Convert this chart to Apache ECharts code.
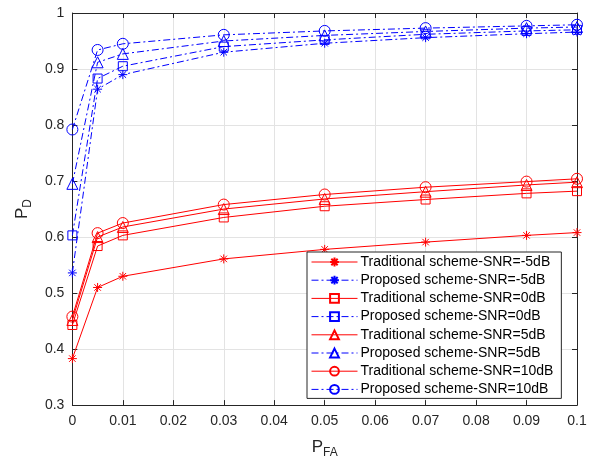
<!DOCTYPE html>
<html>
<head>
<meta charset="utf-8">
<script src="https://cdn.jsdelivr.net/npm/echarts@6/dist/echarts.min.js"></script>
<style>
  html, body { margin: 0; padding: 0; background: #fff; }
  #chart { width: 599px; height: 464px; }
</style>
</head>
<body>
<div id="chart"></div>
<script>
// False-alarm probabilities (x) and detection probabilities (y)
const pfa = [0, 0.005, 0.01, 0.03, 0.05, 0.07, 0.09, 0.1];

const tradM5  = [0.383, 0.510, 0.530, 0.561, 0.578, 0.591, 0.603, 0.608];
const propM5  = [0.536, 0.864, 0.890, 0.930, 0.946, 0.956, 0.963, 0.966];
const trad0   = [0.443, 0.584, 0.603, 0.635, 0.655, 0.667, 0.678, 0.682];
const prop0   = [0.603, 0.883, 0.905, 0.940, 0.952, 0.962, 0.968, 0.970];
const trad5   = [0.452, 0.600, 0.618, 0.650, 0.668, 0.681, 0.693, 0.698];
const prop5   = [0.695, 0.912, 0.927, 0.950, 0.960, 0.967, 0.973, 0.975];
const trad10  = [0.458, 0.607, 0.625, 0.658, 0.676, 0.689, 0.699, 0.704];
const prop10  = [0.792, 0.934, 0.945, 0.961, 0.968, 0.973, 0.977, 0.979];

const names = [
  'Traditional scheme-SNR=-5dB', 'Proposed scheme-SNR=-5dB',
  'Traditional scheme-SNR=0dB',  'Proposed scheme-SNR=0dB',
  'Traditional scheme-SNR=5dB',  'Proposed scheme-SNR=5dB',
  'Traditional scheme-SNR=10dB', 'Proposed scheme-SNR=10dB'
];
const values = [tradM5, propM5, trad0, prop0, trad5, prop5, trad10, prop10];

const ASTERISK = 'path://M0,-5L0,5M-5,0L5,0M-3.6,-3.6L3.6,3.6M-3.6,3.6L3.6,-3.6';
const markers = [ASTERISK, ASTERISK, 'rect', 'rect', 'triangle', 'triangle', 'circle', 'circle'];
const markerSize = [9, 9, 9, 9, 11, 11, 11, 11];

const RED = '#ff0000';
const BLUE = '#0000ff';
const FONT = 'Liberation Sans';

const series = names.map((name, i) => {
  const proposed = i % 2 === 1;
  const color = proposed ? BLUE : RED;
  return {
    name,
    type: 'line',
    data: pfa.map((x, k) => [x, values[i][k]]),
    symbol: markers[i],
    symbolSize: markerSize[i],
    showAllSymbol: true,
    lineStyle: {
      color,
      width: 1,
      type: proposed ? [7, 3, 2, 3] : 'solid'
    },
    itemStyle: {
      color: 'rgba(0,0,0,0)',
      borderColor: color,
      borderWidth: 1
    },
    emphasis: { disabled: true },
    animation: false
  };
});

const axisCommon = {
  type: 'value',
  axisLine: { show: true, onZero: false, lineStyle: { color: '#262626', width: 1 } },
  axisTick: { show: true, inside: true, length: 5, lineStyle: { color: '#262626' } },
  axisLabel: { color: '#262626', fontFamily: FONT, fontSize: 14 }
};

const nameRich = {
  a: { fontSize: 17, color: '#262626', fontFamily: FONT, verticalAlign: 'top', lineHeight: 20 },
  b: { fontSize: 12, color: '#262626', fontFamily: FONT, verticalAlign: 'bottom', lineHeight: 20, padding: [14, 0, 0, 0] }
};

const chart = echarts.init(document.getElementById('chart'), null, { renderer: 'canvas' });
chart.setOption({
  backgroundColor: '#ffffff',
  animation: false,
  textStyle: { fontFamily: FONT },
  grid: { left: 70, right: 22, top: 13, bottom: 52, containLabel: false },
  xAxis: [
    Object.assign({}, axisCommon, {
      min: 0, max: 0.1, interval: 0.01,
      position: 'bottom',
      axisLabel: Object.assign({}, axisCommon.axisLabel, {
        margin: 9,
        formatter: v => String(Math.round(v * 100) / 100)
      }),
      splitLine: { show: true, lineStyle: { color: '#e3e3e3', width: 1 } },
      name: '{a|P}{b|FA}',
      nameLocation: 'middle',
      nameGap: 28,
      nameTextStyle: { rich: nameRich }
    }),
    Object.assign({}, axisCommon, {
      min: 0, max: 0.1, interval: 0.01,
      position: 'top',
      axisLabel: { show: false },
      splitLine: { show: false }
    })
  ],
  yAxis: [
    Object.assign({}, axisCommon, {
      min: 0.3, max: 1, interval: 0.1,
      position: 'left',
      axisLabel: Object.assign({}, axisCommon.axisLabel, {
        margin: 8,
        formatter: v => String(Math.round(v * 10) / 10)
      }),
      splitLine: { show: true, lineStyle: { color: '#e3e3e3', width: 1 } },
      name: '{a|P}{b|D}',
      nameLocation: 'middle',
      nameGap: 38,
      nameRotate: 90,
      nameTextStyle: { rich: nameRich }
    }),
    Object.assign({}, axisCommon, {
      min: 0.3, max: 1, interval: 0.1,
      position: 'right',
      axisLabel: { show: false },
      splitLine: { show: false }
    })
  ],
  legend: {
    orient: 'vertical',
    left: 307,
    top: 252,
    itemWidth: 46,
    itemHeight: 11,
    itemGap: 4.2,
    padding: [3, 8, 2, 4],
    backgroundColor: '#ffffff',
    borderColor: '#262626',
    borderWidth: 1,
    borderRadius: 0,
    lineStyle: { width: 1 },
    textStyle: { fontFamily: FONT, fontSize: 14, color: '#000000', padding: [0, 0, 0, -2] },
    data: names
  },
  series
});
</script>
</body>
</html>
